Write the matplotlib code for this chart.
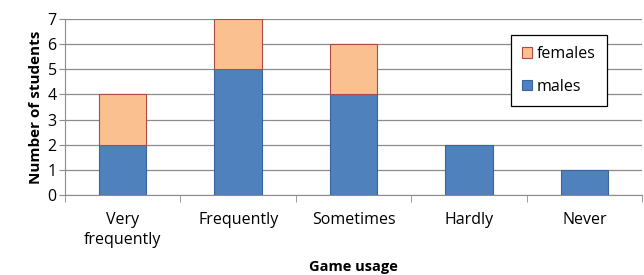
import matplotlib.pyplot as plt
import numpy as np

plt.rcParams['font.family'] = ['Open Sans', 'DejaVu Sans']

categories = ["Very\nfrequently", "Frequently", "Sometimes", "Hardly", "Never"]
males = [2, 5, 4, 2, 1]
females = [2, 2, 2, 0, 0]

x = np.arange(len(categories))

fig = plt.figure(figsize=(6.44, 2.75), dpi=100)
ax = fig.add_axes([0.101, 0.291, 0.896, 0.64])

width = 0.41
b1 = ax.bar(x, males, width, color="#4F81BD", edgecolor="#3A64A0", linewidth=0.8, label="males", zorder=3)
fem_x = [xi for xi, f in zip(x, females) if f > 0]
fem_b = [m for m, f in zip(males, females) if f > 0]
fem_h = [f for f in females if f > 0]
b2 = ax.bar(fem_x, fem_h, width, bottom=fem_b, color="#FAC090", edgecolor="#B04A45", linewidth=0.8, label="females", zorder=3)

ax.set_xlim(-0.5, len(categories) - 0.5)
ax.set_ylim(0, 7)
ax.set_yticks(range(0, 8))
ax.yaxis.grid(True, color="#8C8C8C", linewidth=0.9, zorder=0)
ax.set_axisbelow(True)

ax.set_xticks(x)
ax.set_xticklabels(categories, fontsize=11.5, linespacing=1.35)
ax.set_xticks(np.arange(-0.5, len(categories)), minor=True)
ax.tick_params(axis="x", which="major", length=0, pad=12)
ax.tick_params(axis="x", which="minor", length=5, color="#8C8C8C")
ax.tick_params(axis="y", length=4, color="#8C8C8C", labelsize=11.5, pad=2)

for s in ["top", "right"]:
    ax.spines[s].set_visible(False)
for s in ["left", "bottom"]:
    ax.spines[s].set_color("#8C8C8C")

ax.set_ylabel("Number of students", fontsize=11, fontweight="bold", labelpad=3)
ax.set_xlabel("Game usage", fontsize=10.5, fontweight="bold", labelpad=9)

leg = ax.legend(handles=[b2, b1], loc="upper left", bbox_to_anchor=(0.773, 0.909),
                borderaxespad=0, fancybox=False, edgecolor="black", framealpha=1,
                fontsize=11.5, handlelength=0.6, handleheight=0.6, handletextpad=0.3,
                labelspacing=1.05, borderpad=0.7)
leg.get_frame().set_linewidth(0.9)

fig.savefig("out.png", dpi=100)
